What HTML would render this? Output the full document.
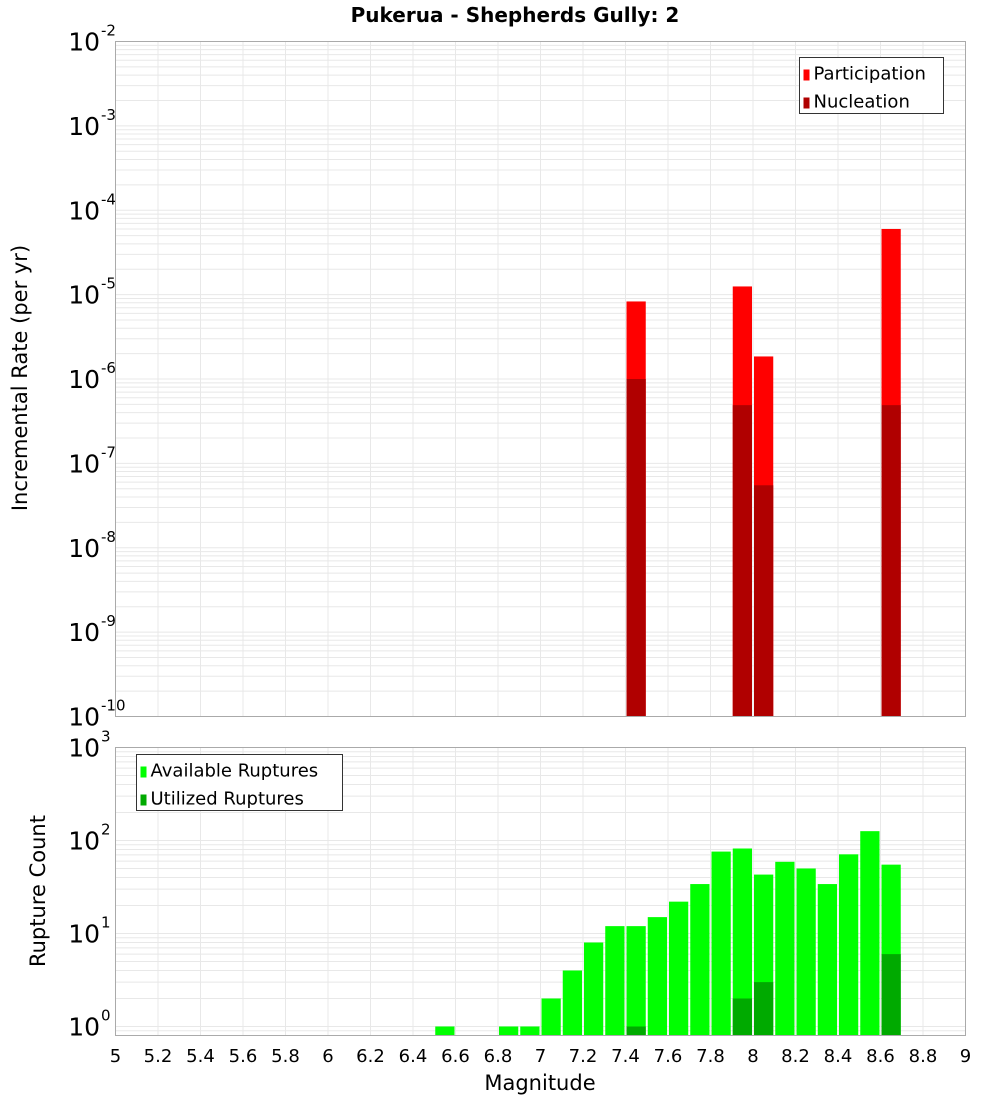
<!DOCTYPE html>
<html><head><meta charset="utf-8"><style>
body{margin:0;background:#fff;font-family:"DejaVu Sans","Liberation Sans",sans-serif}
svg text{font-family:"DejaVu Sans","Liberation Sans",sans-serif}
</style></head><body>
<svg id="c" width="1000" height="1100" xmlns="http://www.w3.org/2000/svg">
<text x="515" y="22" text-anchor="middle" font-size="20" font-weight="bold">Pukerua - Shepherds Gully: 2</text>
<g id="top"></g><g id="bot"></g>
<text transform="translate(27,378) rotate(-90)" text-anchor="middle" font-size="21">Incremental Rate (per yr)</text>
<text transform="translate(45,891) rotate(-90)" text-anchor="middle" font-size="21">Rupture Count</text>
<text x="540" y="1090" text-anchor="middle" font-size="21">Magnitude</text>
</svg>
<script>
const binCenters=[7.45,7.95,8.05,8.65];
const participation=[8.3e-6,1.25e-5,1.85e-6,6.0e-5];
const nucleation=[1.0e-6,4.9e-7,5.5e-8,4.9e-7];
const countBins=[6.55,6.85,6.95,7.05,7.15,7.25,7.35,7.45,7.55,7.65,7.75,7.85,7.95,8.05,8.15,8.25,8.35,8.45,8.55,8.65];
const available=[1,1,1,2,4,8,12,12,15,22,34,76,82,43,59,50,34,71,126,55];
const utilBins=[7.45,7.95,8.05,8.65];
const utilized=[1,2,3,6];
const xTicks=[5,5.2,5.4,5.6,5.8,6,6.2,6.4,6.6,6.8,7,7.2,7.4,7.6,7.8,8,8.2,8.4,8.6,8.8,9];
const topDecades=[-10,-9,-8,-7,-6,-5,-4,-3,-2];
const botDecades=[0,1,2,3];

const NS="http://www.w3.org/2000/svg";
const L=115.5,R=965.5;
const X=v=>L+(v-5)/4*(R-L);
function mk(p,t,a){const e=document.createElementNS(NS,t);for(const k in a)e.setAttribute(k,a[k]);p.appendChild(e);return e;}
function panel(g,top,bot,lmin,lmax,decs,name){
  const Y=v=>bot-(Math.log10(v)-lmin)/(lmax-lmin)*(bot-top);
  for(let d=Math.floor(lmin);d<lmax;d++)for(let m=1;m<10;m++){const v=m*Math.pow(10,d);const lv=Math.log10(v);if(lv<lmin||lv>lmax)continue;
    const l=mk(g,'line',{x1:L,x2:R,y1:Y(v),y2:Y(v),stroke:'#e8e8e8','stroke-width':1});
    
    }
  xTicks.forEach(t=>{const l=mk(g,'line',{x1:X(t),x2:X(t),y1:top,y2:bot,stroke:'#e8e8e8'});
    
    });
  decs.forEach(d=>{const y=bot-(d-lmin)/(lmax-lmin)*(bot-top);
    const t=mk(g,'text',{x:100,y:y+9,'text-anchor':'end','font-size':25});
    
    
    t.textContent='10';
    const s=mk(g,'text',{x:101,y:y-6,'font-size':15});
    
    
    s.textContent=String(d);});
  return Y;
}
const tg=document.getElementById('top'),bg=document.getElementById('bot');
const T0=41.5,T1=716.5;
const Yt=panel(tg,T0,T1,-10,-2,topDecades,'top');
const bw=(R-L)/40;
binCenters.forEach((c,i)=>{
  let r=mk(tg,'rect',{x:X(c)-bw/2+1,y:Yt(participation[i]),width:bw-2,height:T1-Yt(participation[i]),fill:'#ff0000'});
  
  
  r=mk(tg,'rect',{x:X(c)-bw/2+1,y:Yt(nucleation[i]),width:bw-2,height:T1-Yt(nucleation[i]),fill:'#b00000'});
  
  
});
let f=mk(tg,'rect',{x:L,y:T0,width:R-L,height:T1-T0,fill:'none',stroke:'#aaa'});


const B0=747.5,B1=1035.5;
const Yb=panel(bg,B0,B1,Math.log10(0.8),3,botDecades,'bottom');
countBins.forEach((c,i)=>{
  const r=mk(bg,'rect',{x:X(c)-bw/2+1,y:Yb(available[i]),width:bw-2,height:B1-Yb(available[i]),fill:'#00ff00'});
  
  
});
utilBins.forEach((c,i)=>{
  const r=mk(bg,'rect',{x:X(c)-bw/2+1,y:Yb(utilized[i]),width:bw-2,height:B1-Yb(utilized[i]),fill:'#00aa00'});
  
  
});
f=mk(bg,'rect',{x:L,y:B0,width:R-L,height:B1-B0,fill:'none',stroke:'#aaa'});


xTicks.forEach(t=>{const e=mk(bg,'text',{x:X(t),y:1062,'text-anchor':'middle','font-size':18});
  
  
  e.textContent=String(t);});
function legend(g,x,y,w,items,name){
  const b=mk(g,'rect',{x:x,y:y,width:w,height:56,fill:'#fff',stroke:'#333'});
  
  
  items.forEach((it,i)=>{
    const s=mk(g,'rect',{x:x+4,y:y+12+i*28,width:6,height:11,fill:it[1]});
    
    
    const t=mk(g,'text',{x:x+14,y:y+22+i*28,'font-size':18});
    
    
    t.textContent=it[0];});
}
legend(tg,799.5,57.5,144,[['Participation','#ff0000'],['Nucleation','#b00000']],'top-legend');
legend(bg,136.5,754.5,206,[['Available Ruptures','#00ff00'],['Utilized Ruptures','#00aa00']],'bottom-legend');
</script>
</body></html>
